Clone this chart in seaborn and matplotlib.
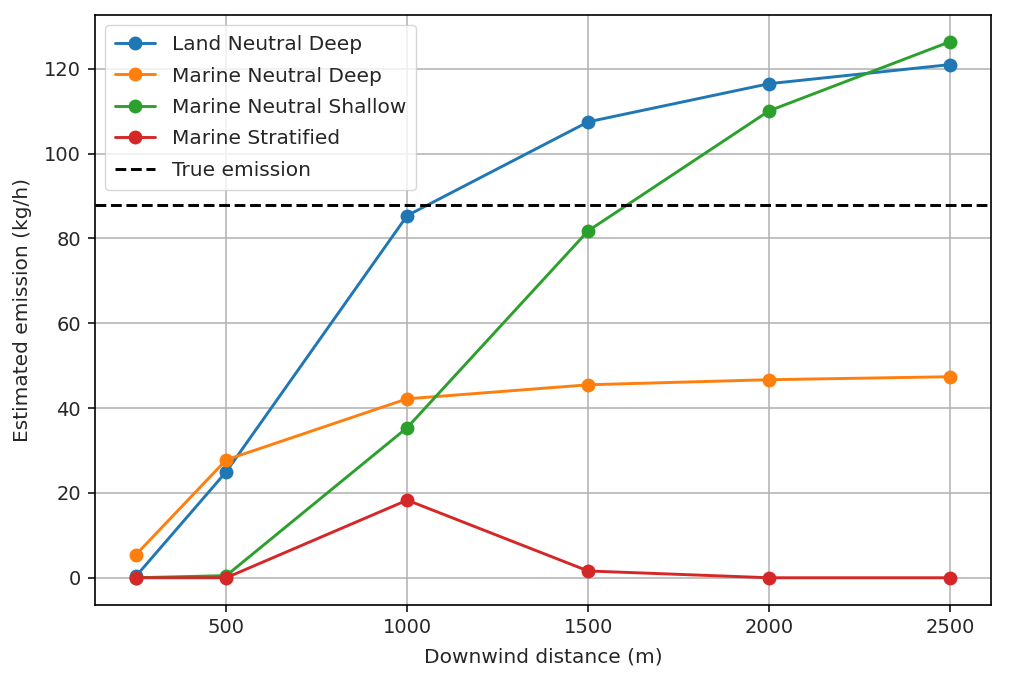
import numpy as np
import pandas as pd
import matplotlib
matplotlib.use('Agg')
import matplotlib.pyplot as plt
import seaborn as sns

# distanze sottovento (m)
distance = [250, 500, 1000, 1500, 2000, 2500]

land_neutral_deep = [0.3, 25.0, 85.4, 107.5, 116.5, 121.0]
marine_neutral_deep = [5.4, 27.8, 42.2, 45.5, 46.7, 47.4]
marine_neutral_shallow = [0.0, 0.5, 35.4, 81.8, 110.1, 126.4]
marine_stratified = [0.0, 0.0, 18.3, 1.6, 0.0, 0.0]
true_emission = 88.0

series = {
    'Land Neutral Deep': land_neutral_deep,
    'Marine Neutral Deep': marine_neutral_deep,
    'Marine Neutral Shallow': marine_neutral_shallow,
    'Marine Stratified': marine_stratified,
}

rows = []
for name, vals in series.items():
    for d, v in zip(distance, vals):
        rows.append({'Scenario': name, 'Distance': d, 'Emission': v})
df = pd.DataFrame(rows)

sns.set_style('white')
plt.rcParams['font.family'] = ['DejaVu Sans']
plt.rcParams['text.color'] = '#262626'

fig, ax = plt.subplots(figsize=(10.11, 6.77), dpi=100)
palette = ['#1f77b4', '#ff7f0e', '#2ca02c', '#d62728']
sns.lineplot(data=df, x='Distance', y='Emission', hue='Scenario', palette=palette,
             marker='o', markersize=10, markeredgewidth=0, linewidth=2.1, ax=ax)
ax.axhline(true_emission, color='black', linestyle='--', linewidth=2.1, label='True emission')

ax.set_xlabel('Downwind distance (m)', fontsize=14.5, labelpad=7)
ax.set_ylabel('Estimated emission (kg/h)', fontsize=14.5, labelpad=9)
ax.tick_params(labelsize=14, length=5, width=1.1, pad=5, color='black', left=True, bottom=True)
ax.grid(True, color='#b0b0b0', linewidth=1.1)
for s in ax.spines.values():
    s.set_color('black')
    s.set_linewidth(1.2)
ax.legend(loc='upper left', fontsize=14.5, title=None, framealpha=0.8,
          labelspacing=0.62, borderpad=0.5)

fig.subplots_adjust(left=0.094, right=0.98, top=0.978, bottom=0.107)
fig.savefig('out.png', dpi=100)
